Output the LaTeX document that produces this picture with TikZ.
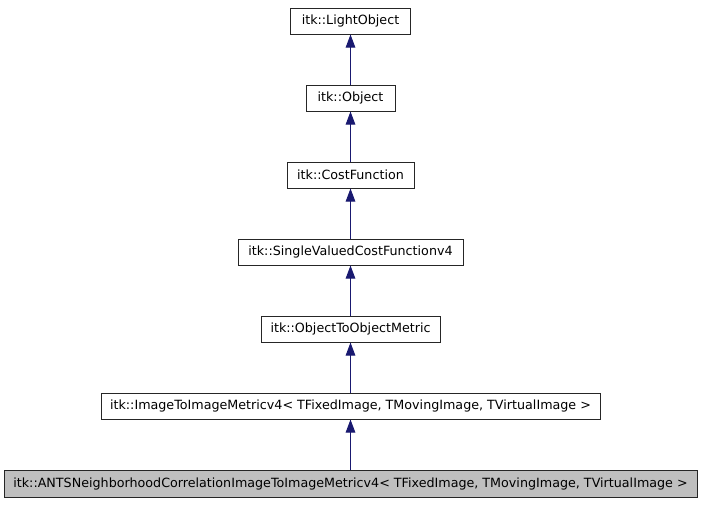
\documentclass[tikz,border=0pt]{standalone}
\usepackage{fontspec}
\setmainfont{DejaVu Sans}
\usetikzlibrary{arrows.meta}
\definecolor{edgeblue}{HTML}{191970}
\definecolor{boxline}{HTML}{262626}
\definecolor{boxgray}{HTML}{BFBFBF}
\tikzset{
  cls/.style={draw=boxline, line width=1pt, fill=white, inner sep=0pt,
    minimum height=26pt, align=center, font=\fontsize{12.7}{14}\selectfont},
  cur/.style={cls, fill=boxgray, minimum height=27pt},
  inherit/.style={draw=edgeblue, line width=1pt,
    -{Triangle[length=13pt,width=9.5pt,fill=edgeblue]}}
}
\begin{document}
\begin{tikzpicture}[x=1pt,y=-1pt]
\fill[white] (0,0) rectangle (701,504);
\useasboundingbox (0,0) rectangle (701,504);
\node[cls, minimum width=120pt] (lo) at (350.5,21) {itk::LightObject};
\node[cls, minimum width=89pt] (ob) at (350.5,98) {itk::Object};
\node[cls, minimum width=127pt] (cf) at (350.5,175) {itk::CostFunction};
\node[cls, minimum width=225pt] (sv) at (350.5,252) {itk::SingleValuedCostFunctionv4};
\node[cls, minimum width=179pt] (oo) at (350.5,329) {itk::ObjectToObjectMetric};
\node[cls, minimum width=499pt] (it) at (350.5,406) {itk::ImageToImageMetricv4\textless{} TFixedImage, TMovingImage, TVirtualImage \textgreater{}};
\node[cur, minimum width=693pt] (an) at (350.5,483.5) {itk::ANTSNeighborhoodCorrelationImageToImageMetricv4\textless{} TFixedImage, TMovingImage, TVirtualImage \textgreater{}};
\draw[inherit] (ob.north) -- (lo.south);
\draw[inherit] (cf.north) -- (ob.south);
\draw[inherit] (sv.north) -- (cf.south);
\draw[inherit] (oo.north) -- (sv.south);
\draw[inherit] (it.north) -- (oo.south);
\draw[inherit] (an.north) -- (it.south);
\end{tikzpicture}
\end{document}
